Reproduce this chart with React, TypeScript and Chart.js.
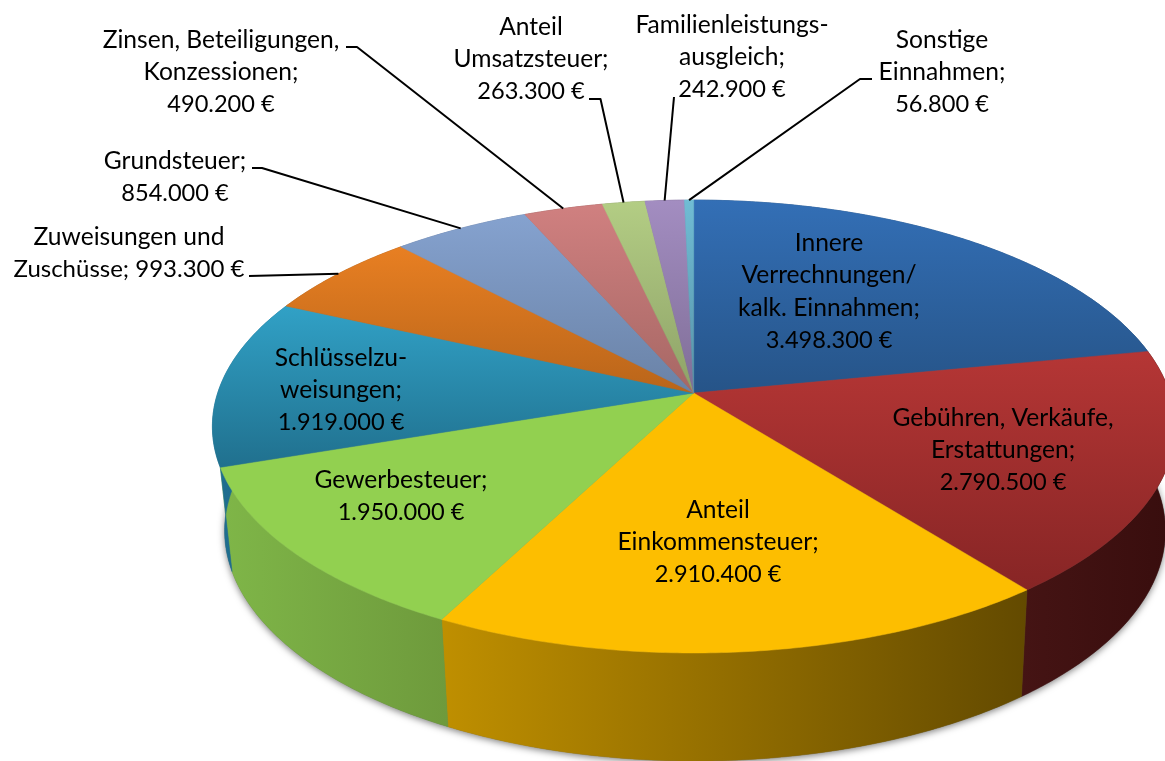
import React, { useEffect, useRef } from "react";
import { Chart, ArcElement, PieController } from "chart.js";

const categories = [
  "Innere Verrechnungen/kalk. Einnahmen",
  "Gebühren, Verkäufe, Erstattungen",
  "Anteil Einkommensteuer",
  "Gewerbesteuer",
  "Schlüsselzuweisungen",
  "Zuweisungen und Zuschüsse",
  "Grundsteuer",
  "Zinsen, Beteiligungen, Konzessionen",
  "Anteil Umsatzsteuer",
  "Familienleistungsausgleich",
  "Sonstige Einnahmen",
];
const values = [3498300, 2790500, 2910400, 1950000, 1919000, 993300, 854000, 490200, 263300, 242900, 56800];
const labelLines = [
  ["Innere", "Verrechnungen/", "kalk. Einnahmen;", "{v}"],
  ["Gebühren, Verkäufe,", "Erstattungen;", "{v}"],
  ["Anteil", "Einkommensteuer;", "{v}"],
  ["Gewerbesteuer;", "{v}"],
  ["Schlüsselzu-", "weisungen;", "{v}"],
  ["Zuweisungen und", "Zuschüsse; {v}"],
  ["Grundsteuer;", "{v}"],
  ["Zinsen, Beteiligungen,", "Konzessionen;", "{v}"],
  ["Anteil", "Umsatzsteuer;", "{v}"],
  ["Familienleistungs-", "ausgleich;", "{v}"],
  ["Sonstige", "Einnahmen;", "{v}"],
];
const topColors = ["#336fb6", "#b53635", "#fdbe00", "#92d050", "#31a1c6", "#e87f22", "#85a2cf", "#d08080", "#b3cd84", "#a38dc1", "#70bcd4"];
const lowColors = ["#265488", "#872525", "#fdbe00", "#92d050", "#20708e", "#b9651a", "#6a82a6", "#a66764", "#8ea268", "#7f6e97", "#5693a8"];
const wallLeft = ["#1f4a78", "#451414", "#bf8f00", "#7fb648", "#1f6f90", "#9a5412", "#5a7096", "#8a4a48", "#7a8a55", "#6a5a80", "#3f7a90"];
const wallRight = ["#1f4a78", "#380d0d", "#634a00", "#6e9a3c", "#1d6888", "#9a5412", "#5a7096", "#8a4a48", "#7a8a55", "#6a5a80", "#3f7a90"];

// centre x, first line centre y (label layout)
const labelAnchors = [
  [829, 243], [1003, 418], [718, 510], [401, 480], [341, 358], [129, 237], [175, 161], [221, 40], [531, 27], [732, 25], [942, 40],
];
const lineGap = 32.3;
// label-side points of the leader lines (slices 5..10)
const leaderStart: Record<number, number[][]> = {
  5: [[249, 276]],
  6: [[252, 168], [262, 168]],
  7: [[346, 47], [357, 47]],
  8: [[589, 99], [600.5, 99]],
  9: [[674, 97]],
  10: [[872, 79], [860, 79]],
};

// perspective projection of the pie disc onto the page
const top3d = { cx: 693.7, y0: 393, a: 476, b: 221.5, k: 0.148 };
const bot3d = { cx: 695, y0: 496, a: 465, b: 225, k: 0.151 };
type P = { cx: number; y0: number; a: number; b: number; k: number };
const proj = (p: P, ang: number, r = 1): [number, number] => {
  const t = ang + Math.PI / 2;
  const u = Math.sin(t) * r;
  const v = Math.cos(t) * r;
  const d = 1 + p.k * v;
  return [p.cx + (p.a * u) / d, p.y0 - (p.b * v) / d];
};
const arcPts = (p: P, a0: number, a1: number): [number, number][] => {
  const n = Math.max(2, Math.ceil(Math.abs(a1 - a0) / 0.01));
  const out: [number, number][] = [];
  for (let i = 0; i <= n; i++) out.push(proj(p, a0 + ((a1 - a0) * i) / n));
  return out;
};

class Arc3D extends ArcElement {
  static id = "arc3d";
  draw(ctx: CanvasRenderingContext2D) {
    const { startAngle, endAngle } = (this as any).getProps(["startAngle", "endAngle"]);
    const o = (this as any).options;
    const pts = arcPts(top3d, startAngle, endAngle);
    pts.push(proj(top3d, 0, 0));
    const ys = pts.map((q) => q[1]);
    const g = ctx.createLinearGradient(0, Math.min(...ys), 0, Math.max(...ys));
    g.addColorStop(0, o.backgroundColor);
    g.addColorStop(1, o.borderColor);
    ctx.save();
    ctx.beginPath();
    pts.forEach((q, i) => (i ? ctx.lineTo(q[0], q[1]) : ctx.moveTo(q[0], q[1])));
    ctx.closePath();
    ctx.fillStyle = g;
    ctx.strokeStyle = g;
    ctx.lineWidth = 0.5;
    ctx.fill();
    ctx.stroke();
    ctx.restore();
  }
}
class Pie3DController extends PieController {
  static id = "pie3d";
  static defaults = { dataElementType: "arc3d" };
}

const walls = {
  id: "walls",
  beforeDatasetsDraw(chart: any) {
    const ctx: CanvasRenderingContext2D = chart.ctx;
    const arcs = chart.getDatasetMeta(0).data;
    const start = arcs[0].startAngle;
    ctx.save();
    ctx.shadowColor = "rgba(0,0,0,0.5)";
    ctx.shadowBlur = 7;
    ctx.shadowOffsetY = 2;
    ctx.fillStyle = "#666";
    ctx.beginPath();
    arcPts(bot3d, start, start + Math.PI * 2).forEach((q, i) => (i ? ctx.lineTo(q[0], q[1]) : ctx.moveTo(q[0], q[1])));
    ctx.closePath();
    ctx.fill();
    ctx.restore();
    arcs.forEach((el: any, i: number) => {
      const up = arcPts(top3d, el.startAngle, el.endAngle);
      const dn = arcPts(bot3d, el.startAngle, el.endAngle).reverse();
      const all = up.concat(dn);
      const xs = all.map((q) => q[0]);
      const g = ctx.createLinearGradient(Math.min(...xs), 0, Math.max(...xs), 0);
      g.addColorStop(0, wallLeft[i]);
      g.addColorStop(1, wallRight[i]);
      ctx.save();
      ctx.beginPath();
      all.forEach((q, j) => (j ? ctx.lineTo(q[0], q[1]) : ctx.moveTo(q[0], q[1])));
      ctx.closePath();
      ctx.fillStyle = g;
      ctx.strokeStyle = g;
      ctx.lineWidth = 0.5;
      ctx.fill();
      ctx.stroke();
      ctx.restore();
    });
  },
};

const labelsPlugin = {
  id: "sliceLabels",
  afterDatasetsDraw(chart: any) {
    const ctx: CanvasRenderingContext2D = chart.ctx;
    const arcs = chart.getDatasetMeta(0).data;
    ctx.save();
    ctx.strokeStyle = "#000";
    ctx.lineWidth = 2;
    ctx.lineJoin = "round";
    Object.keys(leaderStart).forEach((key) => {
      const i = Number(key);
      const mid = (arcs[i].startAngle + arcs[i].endAngle) / 2;
      const end = proj(top3d, mid);
      ctx.beginPath();
      leaderStart[i].forEach((q, j) => (j ? ctx.lineTo(q[0], q[1]) : ctx.moveTo(q[0], q[1])));
      ctx.lineTo(end[0], end[1]);
      ctx.stroke();
    });
    ctx.fillStyle = "#000";
    ctx.textAlign = "center";
    ctx.textBaseline = "middle";
    labelLines.forEach((lines, i) => {
      const money = values[i].toLocaleString("de-DE") + " €";
      lines.forEach((line, j) => {
        const size = line === "{v}" ? 23.6 : line.includes("{v}") ? 24 : 24.6;
        ctx.font = `${size}px Lato`;
        ctx.fillText(line.replace("{v}", money), labelAnchors[i][0], labelAnchors[i][1] + j * lineGap);
      });
    });
    ctx.restore();
  },
};

Chart.register(Arc3D as any, Pie3DController as any);

export default function App() {
  const ref = useRef<HTMLCanvasElement>(null);
  useEffect(() => {
    const chart = new Chart(ref.current as HTMLCanvasElement, {
      type: "pie3d" as any,
      data: {
        labels: categories,
        datasets: [{ data: values, backgroundColor: topColors, borderColor: lowColors, borderWidth: 0 }],
      },
      options: {
        animation: false,
        responsive: false,
        devicePixelRatio: 1,
        plugins: { legend: { display: false }, tooltip: { enabled: false } },
      } as any,
      plugins: [walls, labelsPlugin],
    } as any);
    return () => chart.destroy();
  }, []);
  return (
    <div style={{ position: "absolute", left: 0, top: 0, width: 1165, height: 761, background: "#fff" }}>
      <canvas ref={ref} width={1165} height={761} style={{ display: "block" }} />
    </div>
  );
}
